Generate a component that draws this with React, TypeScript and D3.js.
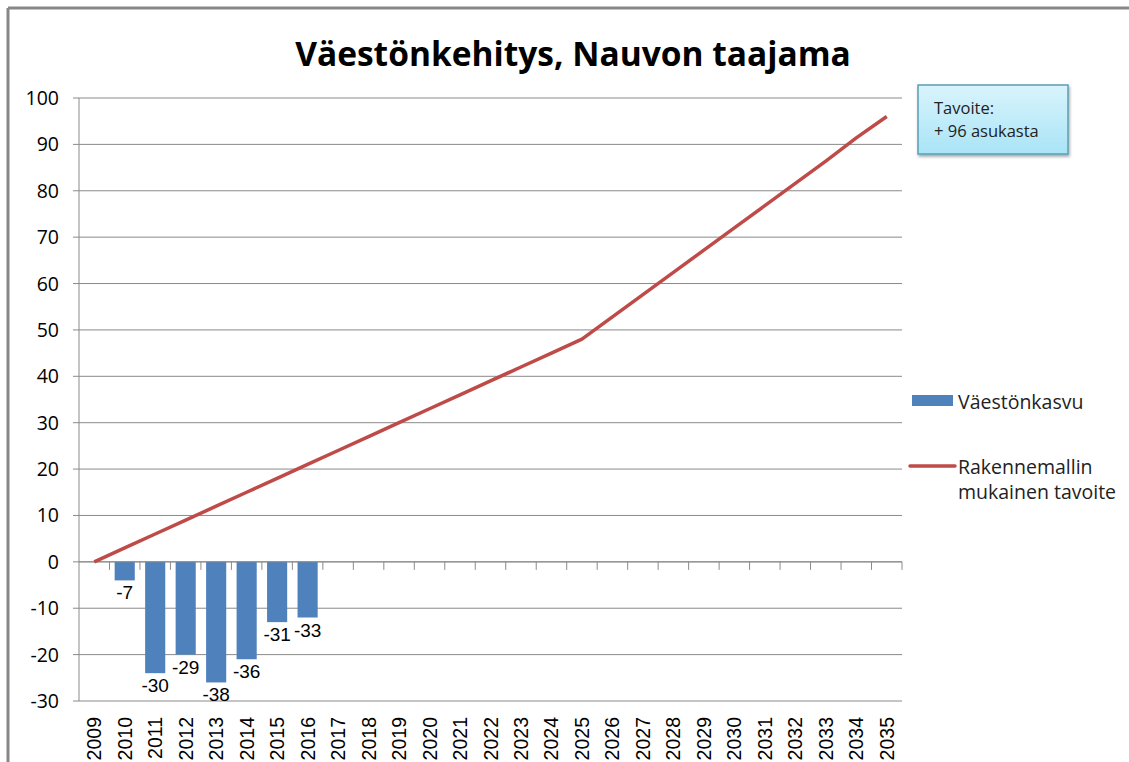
import React from "react";
import * as d3 from "d3";

const years: string[] = [
  "2009","2010","2011","2012","2013","2014","2015","2016","2017","2018",
  "2019","2020","2021","2022","2023","2024","2025","2026","2027","2028",
  "2029","2030","2031","2032","2033","2034","2035",
];
const barYears: string[] = ["2010","2011","2012","2013","2014","2015","2016"];
const barValues: number[] = [-4, -24, -20, -26, -21, -13, -12];
const barLabels: string[] = ["-7", "-30", "-29", "-38", "-36", "-31", "-33"];
const targetValues: number[] = [
  0, 3, 6, 9, 12, 15, 18, 21, 24, 27,
  30, 33, 36, 39, 42, 45, 48, 52.8, 57.6, 62.4,
  67.2, 72, 76.8, 81.6, 86.4, 91.4, 96,
];
const yTicks: number[] = [100, 90, 80, 70, 60, 50, 40, 30, 20, 10, 0, -10, -20, -30];

const title = "Väestönkehitys, Nauvon taajama";
const legendBar = "Väestönkasvu";
const legendLine = ["Rakennemallin", "mukainen tavoite"];
const noteLines = ["Tavoite:", "+ 96 asukasta"];

const W = 1129;
const H = 762;
const left = 79;
const right = 902;
const top = 98;
const bottom = 701;

const BLUE = "#4F81BD";
const RED = "#BE4B48";
const GRID = "#8a8a8a";
const SANS = "'Open Sans', sans-serif";
const ARIAL = "'Liberation Sans', Arial, sans-serif";

export default function App() {
  const x = d3.scaleBand<string>().domain(years).range([left, right]).padding(0);
  const y = d3.scaleLinear().domain([-30, 100]).range([bottom, top]);
  const bw = x.bandwidth() * 0.66;
  const cx = (yr: string) => (x(yr) as number) + x.bandwidth() / 2;

  const line = d3
    .line<number>()
    .x((_, i) => cx(years[i]))
    .y((d) => y(d));

  const y0 = y(0);

  return (
    <div style={{ position: "fixed", left: 0, top: 0, width: W, height: H, background: "#fff" }}>
      <svg width={W} height={H} style={{ display: "block" }}>
        <defs>
          <linearGradient id="noteFill" x1="0" y1="0" x2="0" y2="1">
            <stop offset="0" stopColor="#d9f4fc" />
            <stop offset="1" stopColor="#a9e4f7" />
          </linearGradient>
          <filter id="shadow" x="-20%" y="-20%" width="140%" height="150%">
            <feDropShadow dx="1" dy="2" stdDeviation="1.5" floodColor="#000" floodOpacity="0.35" />
          </filter>
        </defs>
        <rect x={0} y={0} width={W} height={H} fill="#fff" />
        {/* outer frame */}
        <line x1={8} y1={8} x2={W} y2={8} stroke="#878787" strokeWidth={3} />
        <line x1={8} y1={8} x2={8} y2={H} stroke="#878787" strokeWidth={3} />

        {/* title */}
        <text
          x={573}
          y={66}
          textAnchor="middle"
          fontFamily={SANS}
          fontWeight={700}
          fontSize={33.5}
          fill="#000"
        >
          {title}
        </text>

        {/* gridlines */}
        {yTicks.map((t) => (
          <line key={"g" + t} x1={left - 6} x2={right} y1={y(t)} y2={y(t)} stroke={GRID} strokeWidth={1} />
        ))}
        {/* y axis */}
        <line x1={left} x2={left} y1={top} y2={bottom} stroke={GRID} strokeWidth={1} />
        {yTicks.map((t) => (
          <text
            key={"yl" + t}
            x={59}
            y={y(t)}
            dy="0.36em"
            textAnchor="end"
            fontFamily={SANS}
            fontSize={19.5}
            fill="#000"
          >
            {t}
          </text>
        ))}

        {/* bars */}
        {barYears.map((yr, i) => {
          const v = barValues[i];
          return (
            <rect
              key={"b" + yr}
              x={cx(yr) - bw / 2}
              y={Math.min(y(v), y0)}
              width={bw}
              height={Math.abs(y(v) - y0)}
              fill={BLUE}
            />
          );
        })}

        {/* category axis at zero */}
        <line x1={left} x2={right} y1={y0} y2={y0} stroke={GRID} strokeWidth={1} />
        {years.map((yr) => (
          <line
            key={"t" + yr}
            x1={(x(yr) as number) + x.bandwidth()}
            x2={(x(yr) as number) + x.bandwidth()}
            y1={y0}
            y2={y0 + 8}
            stroke={GRID}
            strokeWidth={1}
          />
        ))}

        {/* bar labels */}
        {barYears.map((yr, i) => (
          <text
            key={"bl" + yr}
            x={cx(yr)}
            y={y(barValues[i]) + 19}
            textAnchor="middle"
            fontFamily={ARIAL}
            fontSize={19}
            fill="#000"
          >
            {barLabels[i]}
          </text>
        ))}

        {/* line */}
        <path d={line(targetValues) || ""} fill="none" stroke={RED} strokeWidth={3.5} strokeLinejoin="round" />

        {/* x labels */}
        {years.map((yr) => (
          <text
            key={"xl" + yr}
            transform={`translate(${cx(yr) + 7},${717}) rotate(-90)`}
            textAnchor="end"
            fontFamily={ARIAL}
            fontSize={19.5}
            fill="#000"
          >
            {yr}
          </text>
        ))}

        {/* note box */}
        <rect x={918} y={85} width={150} height={69} fill="url(#noteFill)" stroke="#5b9fb3" strokeWidth={1.5} filter="url(#shadow)" />
        {noteLines.map((t, i) => (
          <text key={"n" + i} x={934} y={114 + i * 23} fontFamily={SANS} fontSize={16.5} fill="#222">
            {t}
          </text>
        ))}

        {/* legend */}
        <rect x={912} y={395} width={41} height={11} fill={BLUE} />
        <text x={958} y={409} fontFamily={SANS} fontSize={19.5} fill="#222">
          {legendBar}
        </text>
        <line x1={910} x2={955} y1={466} y2={466} stroke={RED} strokeWidth={3.5} strokeLinecap="round" />
        {legendLine.map((t, i) => (
          <text key={"ll" + i} x={958} y={474 + i * 25} fontFamily={SANS} fontSize={19.5} fill="#222">
            {t}
          </text>
        ))}
      </svg>
    </div>
  );
}
